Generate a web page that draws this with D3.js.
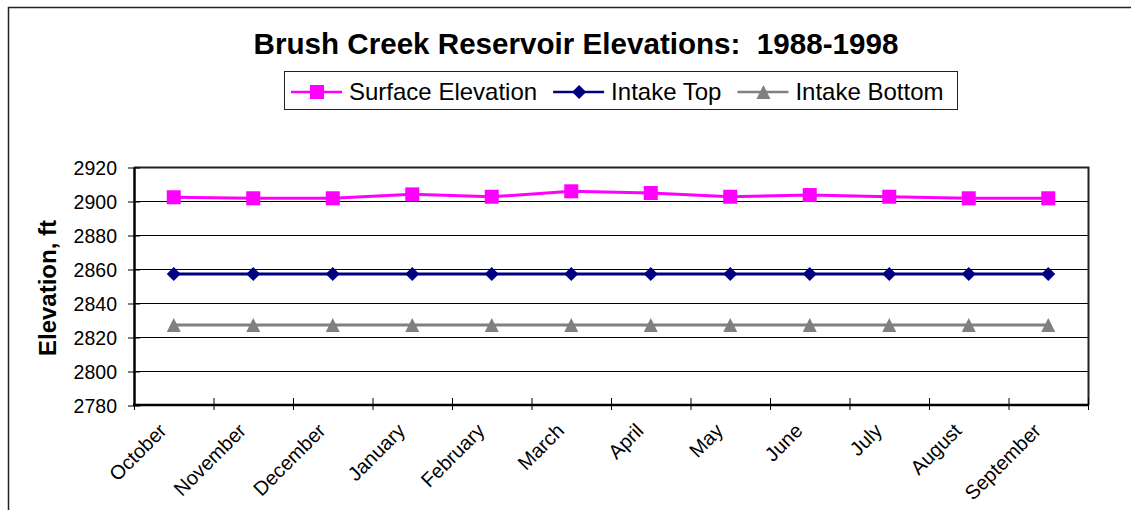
<!DOCTYPE html>
<html lang="en">
<head>
<meta charset="UTF-8">
<title>Brush Creek Reservoir Elevations</title>
<style>
body { margin: 0; background: #fff; }
svg { display: block; font-family: 'Liberation Sans', Arial, sans-serif; }
.grid line { stroke: #000; stroke-width: 1; }
.xlab { font-size: 20px; fill: #000; }
</style>
</head>
<body>
<div id="chart"></div>
<script src="https://cdn.jsdelivr.net/npm/d3@7"></script>
<script>

var months = ["October", "November", "December", "January", "February", "March",
              "April", "May", "June", "July", "August", "September"];
var surface = [2902.2, 2901.6, 2901.6, 2903.9, 2902.5, 2905.7,
               2904.7, 2902.5, 2903.5, 2902.5, 2901.6, 2901.6];
var intakeTop = [2857, 2857, 2857, 2857, 2857, 2857, 2857, 2857, 2857, 2857, 2857, 2857];
var intakeBottom = [2827, 2827, 2827, 2827, 2827, 2827, 2827, 2827, 2827, 2827, 2827, 2827];
var yTicks = [2780, 2800, 2820, 2840, 2860, 2880, 2900, 2920];

var series = [
  { name: "Surface Elevation", values: surface, color: "#ff00ff", shape: "square" },
  { name: "Intake Top", values: intakeTop, color: "#000080", shape: "diamond" },
  { name: "Intake Bottom", values: intakeBottom, color: "#808080", shape: "triangle" }
];

var width = 1131, height = 510;
var plot = { left: 134, right: 1088, top: 167, bottom: 405 };

var svg = d3.select('#chart').append('svg')
  .attr('width', width)
  .attr('height', height);

// outer chart border (runs off the right and bottom of the picture)
svg.append('rect')
  .attr('x', 8.5).attr('y', 7.5)
  .attr('width', 1200).attr('height', 600)
  .attr('fill', 'none')
  .attr('stroke', '#222')
  .attr('stroke-width', 1.5);

var x = d3.scaleBand().domain(months).range([plot.left, plot.right]).padding(0);
var y = d3.scaleLinear().domain([2780, 2920]).range([plot.bottom, plot.top]);
var cx = function (m) { return x(m) + x.bandwidth() / 2; };

// gridlines
svg.append('g').attr('class', 'grid')
  .selectAll('line')
  .data(yTicks)
  .enter().append('line')
  .attr('x1', plot.left).attr('x2', plot.right)
  .attr('y1', function (d) { return y(d) + 0.5; })
  .attr('y2', function (d) { return y(d) + 0.5; });

// top and right of plot frame
svg.append('path')
  .attr('d', 'M' + plot.left + ',' + (plot.top + 0.5) + 'H' + (plot.right + 0.5) + 'V' + plot.bottom)
  .attr('fill', 'none')
  .attr('stroke', '#222')
  .attr('stroke-width', 2);

// y axis
var yAxis = svg.append('g')
  .attr('transform', 'translate(' + plot.left + ',0)')
  .call(d3.axisLeft(y).tickValues(yTicks).tickFormat(d3.format('d'))
    .tickSize(6).tickSizeOuter(0).tickPadding(11));
yAxis.attr('font-size', 19.5).attr('font-family', null);
yAxis.select('.domain').attr('stroke', '#000').attr('stroke-width', 2.5);
yAxis.selectAll('.tick line').attr('x2', 6).attr('x1', -6).attr('stroke', '#000')
  .attr('transform', 'translate(0,0.5)');
yAxis.selectAll('.tick text').attr('fill', '#000').attr('dy', '0.4em');

// x axis: ticks on category boundaries
var bounds = months.map(function (m) { return x(m); }).concat([plot.right]);
svg.append('line')
  .attr('x1', plot.left - 1).attr('x2', plot.right + 1)
  .attr('y1', plot.bottom).attr('y2', plot.bottom)
  .attr('stroke', '#000').attr('stroke-width', 2.5);
svg.append('g').selectAll('line')
  .data(bounds)
  .enter().append('line')
  .attr('x1', function (d) { return d + 0.5; }).attr('x2', function (d) { return d + 0.5; })
  .attr('y1', plot.bottom - 7).attr('y2', plot.bottom + 5)
  .attr('stroke', '#000').attr('stroke-width', 1);

svg.append('g').selectAll('text')
  .data(months)
  .enter().append('text')
  .attr('class', 'xlab')
  .attr('text-anchor', 'end')
  .attr('transform', function (d) {
    return 'translate(' + (cx(d) - 6) + ',' + (plot.bottom + 27) + ') rotate(-45)';
  })
  .text(function (d) { return d; });

// axis title
svg.append('text')
  .attr('transform', 'translate(56,288) rotate(-90)')
  .attr('text-anchor', 'middle')
  .style('font-size', '24px')
  .style('font-weight', 'bold')
  .text('Elevation, ft');

// title
svg.append('text')
  .attr('x', 576).attr('y', 54)
  .attr('text-anchor', 'middle')
  .style('font-size', '29.6px')
  .style('font-weight', 'bold')
  .style('white-space', 'pre')
  .text('Brush Creek Reservoir Elevations:  1988-1998');

// markers
function marker(sel, shape, color) {
  if (shape === 'square') {
    sel.append('rect').attr('x', -7).attr('y', -7).attr('width', 14).attr('height', 14)
      .attr('fill', color);
  } else if (shape === 'diamond') {
    sel.append('path').attr('d', 'M0,-7L7,0L0,7L-7,0Z').attr('fill', color);
  } else {
    sel.append('path').attr('d', 'M0,-7L7,7L-7,7Z').attr('fill', color);
  }
}

var line = d3.line()
  .x(function (d, i) { return cx(months[i]); })
  .y(function (d) { return y(d); });

series.slice().reverse().forEach(function (s) {
  var g = svg.append('g');
  g.append('path')
    .attr('d', line(s.values))
    .attr('fill', 'none')
    .attr('stroke', s.color)
    .attr('stroke-width', 3);
  g.selectAll('g.pt')
    .data(s.values)
    .enter().append('g')
    .attr('class', 'pt')
    .attr('transform', function (d, i) { return 'translate(' + cx(months[i]) + ',' + y(d) + ')'; })
    .each(function () { marker(d3.select(this), s.shape, s.color); });
});

// legend
var legend = svg.append('g');
var lx = 291;
series.forEach(function (s) {
  var item = legend.append('g').attr('transform', 'translate(' + lx + ',0)');
  item.append('line')
    .attr('x1', 0).attr('x2', 51).attr('y1', 92).attr('y2', 92)
    .attr('stroke', s.color).attr('stroke-width', 2.5);
  var m = item.append('g').attr('transform', 'translate(26,92)');
  marker(m, s.shape, s.color);
  var t = item.append('text')
    .attr('x', 58).attr('y', 100)
    .style('font-size', '24px')
    .text(s.name);
  lx += 58 + t.node().getComputedTextLength() + 16;
});
legend.insert('rect', ':first-child')
  .attr('x', 284.5).attr('y', 71.5)
  .attr('width', 957 - 284).attr('height', 38)
  .attr('fill', '#fff')
  .attr('stroke', '#222')
  .attr('stroke-width', 1);

</script>
</body>
</html>
